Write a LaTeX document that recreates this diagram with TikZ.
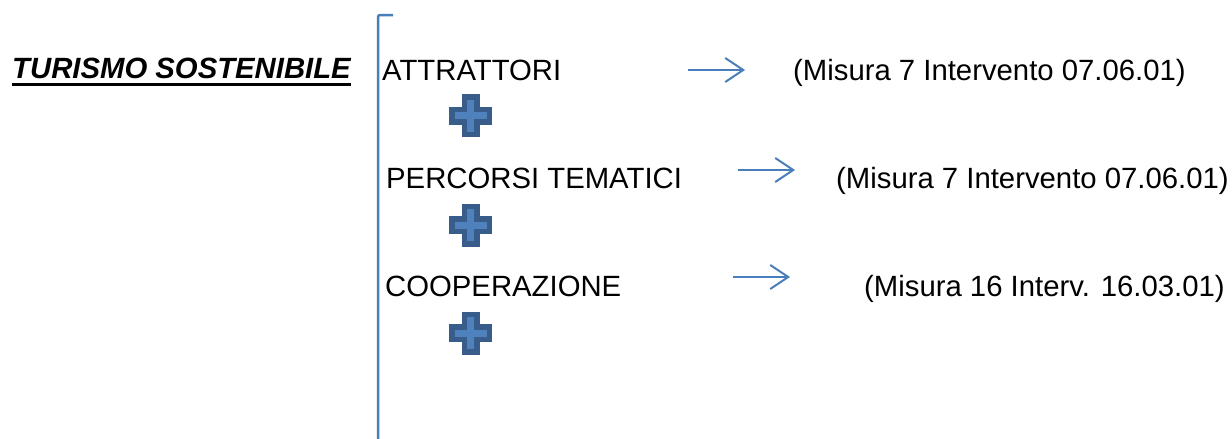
\documentclass[tikz,border=0pt]{standalone}
\usepackage{fontspec}
\setmainfont{Liberation Sans}
\usetikzlibrary{arrows.meta}
\definecolor{lineablu}{HTML}{4A7EBB}
\definecolor{crocechiaro}{HTML}{4F81BD}
\definecolor{crocescuro}{HTML}{385D8A}
\tikzset{
	voce/.style={anchor=base west, inner sep=0pt, font=\fontsize{29.3}{35}\selectfont},
	freccia/.style={draw=lineablu, line width=2pt, -{Straight Barb[length=18pt,width=24pt,line width=2pt]}},
	croce/.style={draw=crocescuro, fill=crocechiaro, line width=5.5pt, line join=miter}
}
\begin{document}
\begin{tikzpicture}[x=1pt,y=-1pt]
		\useasboundingbox (0,0) rectangle (1232,439);
		
		% titolo sottolineato
		\node[voce] at (12,78) (turismo) {\bfseries\itshape TURISMO SOSTENIBILE};
		\draw[line width=3pt] ([yshift=-6.5pt]turismo.base west) -- ([yshift=-6.5pt]turismo.base east);
		
		% parentesi a sinistra delle voci
		\draw[lineablu, line width=2.5pt, rounded corners=2pt] (393,15) -- (378,15) -- (378,439);
		
		% voci
		\node[voce] at (382,80) (attrattori) {ATTRATTORI};
		\node[voce] at (386,188) (percorsi) {PERCORSI TEMATICI};
		\node[voce] at (385,296) (cooperazione) {COOPERAZIONE};
		
		\node[voce] at (793,80) (misura1) {(Misura 7 Intervento 07.06.01)};
		\node[voce] at (836,188) (misura2) {(Misura 7 Intervento 07.06.01)};
		\node[voce] at (864,296) (misura3) {(Misura 16 Interv. 16.03.01)};
		
		% frecce
		\coordinate (f1a) at (688,70);
		\coordinate (f1b) at (745,70);
		\coordinate (f2a) at (738,170);
		\coordinate (f2b) at (795,170);
		\coordinate (f3a) at (733,277);
		\coordinate (f3b) at (790,277);
		\draw[freccia] (f1a) -- (f1b);
		\draw[freccia] (f2a) -- (f2b);
		\draw[freccia] (f3a) -- (f3b);
		
		% croci
		\foreach \y in {115.5,225,333}
			\draw[croce] (464.25,{\y-18.75}) -- ++(12.5,0) -- ++(0,12.5) -- ++(12.5,0) -- ++(0,12.5) -- ++(-12.5,0) -- ++(0,12.5) -- ++(-12.5,0) -- ++(0,-12.5) -- ++(-12.5,0) -- ++(0,-12.5) -- ++(12.5,0) -- cycle;
	\end{tikzpicture}
\end{document}
